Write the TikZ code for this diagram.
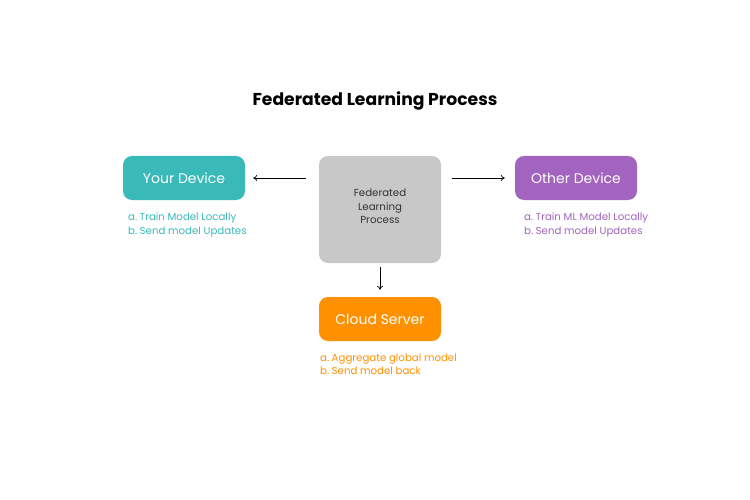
\documentclass[tikz,border=0pt]{standalone}
\usepackage{fontspec}
\setmainfont{Poppins}
\usetikzlibrary{arrows.meta}
\definecolor{teal1}{HTML}{3AB9B9}
\definecolor{grey1}{HTML}{C8C8C8}
\definecolor{purp1}{HTML}{A264BE}
\definecolor{orng1}{HTML}{FF9100}
\definecolor{txt1}{HTML}{333333}
\tikzset{
  box/.style={rounded corners=9pt, minimum width=122pt, minimum height=44pt, inner sep=0pt, text=white, font=\fontsize{14}{16}\selectfont},
  note/.style={anchor=north west, align=left, inner sep=0pt, font=\fontsize{10.2}{13.2}\selectfont},
  arr/.style={-{To[length=4pt,width=6pt]}, line width=0.7pt, black}
}
\newcommand{\gapx}{\hspace{2.5pt}}
\begin{document}
\begin{tikzpicture}[x=1pt,y=-1pt]
\useasboundingbox (0,0) rectangle (750,500);
\fill[white] (0,0) rectangle (750,500);
\node[font=\fontsize{17.2}{20}\selectfont\bfseries] (title) at (375,101) {Federated Learning Process};
\node[box, fill=teal1] (your) at (184,178) {Your Device};
\node[box, fill=grey1, minimum height=107pt] (fed) at (380,209.5) {};
\node[align=center, text=txt1, inner sep=0pt, font=\fontsize{10.2}{13.5}\selectfont] (fedtext) at (380,206.5) {Federated\\Learning\\Process};
\node[box, fill=purp1] (other) at (576,178) {Other Device};
\node[box, fill=orng1] (cloud) at (380,319) {Cloud Server};
\node[note, text=teal1] (yournote) at (128,213) {a.\gapx Train Model Locally\\b.\gapx Send model Updates};
\node[note, text=purp1] (othernote) at (524,213) {a.\gapx Train ML Model Locally\\b.\gapx Send model Updates};
\node[note, text=orng1] (cloudnote) at (320,354) {a.\gapx Aggregate global model\\b.\gapx Send model back};
\draw[arr, shorten <=13pt, shorten >=8pt] (fed.west |- your.east) -- (your.east);
\draw[arr, shorten <=11pt, shorten >=10pt] (fed.east |- other.west) -- (other.west);
\draw[arr, shorten <=4pt, shorten >=7pt] (fed.south) -- (cloud.north);
\end{tikzpicture}
\end{document}
